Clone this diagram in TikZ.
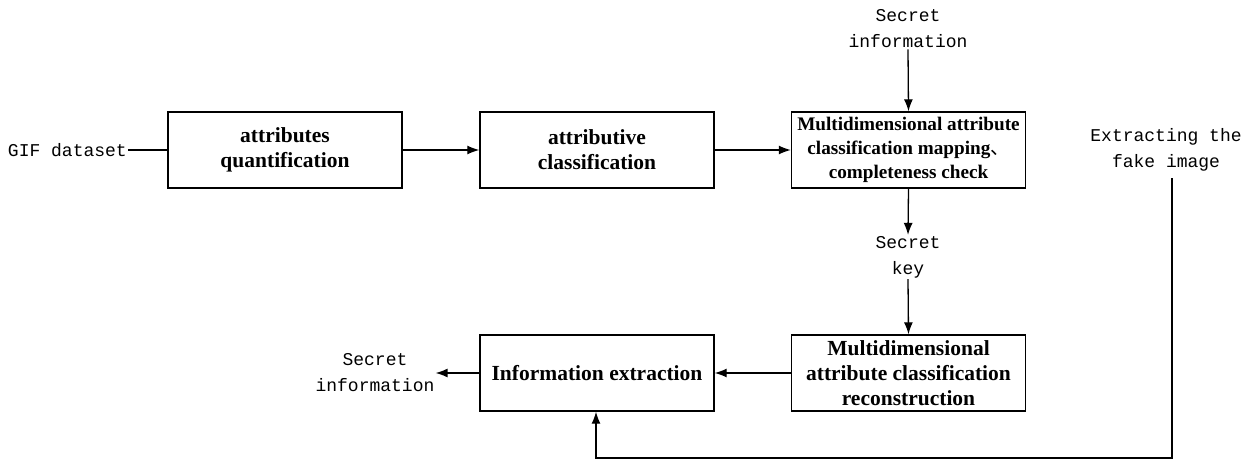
\documentclass[tikz,border=0pt]{standalone}
\usepackage{fontspec}
\setmainfont{Liberation Serif}
\newfontfamily\labelfont{Liberation Mono}
\newfontfamily\cjk{Noto Sans CJK SC}
\usetikzlibrary{arrows.meta}
\begin{document}
\begin{tikzpicture}[x=1pt,y=-1pt,
  proc/.style={draw,line width=1.4pt,minimum width=234pt,minimum height=76pt,
    align=center,inner sep=2pt,font=\fontsize{21.5}{25}\selectfont\bfseries},
  lbl/.style={align=center,inner sep=1pt,font=\labelfont\fontsize{18}{26}\selectfont},
  conn/.style={line width=1.3pt},
  arr/.style={conn,-{Latex[length=12pt,width=9pt]}}]
\useasboundingbox (0,0) rectangle (1253,460);
% processing blocks
\node[proc] (quant) at (285,150) {attributes\\quantification};
\node[proc,font=\fontsize{19.2}{24}\selectfont\bfseries] (mapping) at (908.5,150)
  {Multidimensional attribute\\classification mapping{\cjk\mdseries 、}\\completeness check};
\node[proc] (classif) at (597,150) {attributive\\classification};
\node[proc] (extract) at (597,373) {Information extraction};
\node[proc] (recon) at (908.5,373) {Multidimensional\\attribute classification\\reconstruction};
% labels
\node[lbl,anchor=east] (gif) at (128,150) {GIF dataset};
\node[lbl] (secin) at (908,29) {Secret\\information};
\node[lbl] (key) at (908,257) {Secret\\key};
\node[lbl] (fake) at (1166,150) {Extracting the\\fake image};
\node[lbl] (secout) at (375,373) {Secret\\information};
\coordinate (fakedown) at (1172,178);
\coordinate (corner1) at (1172,458);
\coordinate (corner2) at (596,458);
% connectors
\draw[conn] (gif.east) -- (quant.west);
\draw[arr] (quant) -- (classif);
\draw[arr] (classif) -- (mapping);
\draw[arr] (secin.south) -- (mapping.north);
\draw[arr] (mapping.south) -- (key.north);
\draw[arr] (key.south) -- (recon.north);
\draw[arr] (recon) -- (extract);
\draw[arr] (extract.west) -- (secout.east);
\draw[arr] (fakedown) -- (corner1) -- (corner2) -- (extract.south -| corner2);
\end{tikzpicture}
\end{document}
